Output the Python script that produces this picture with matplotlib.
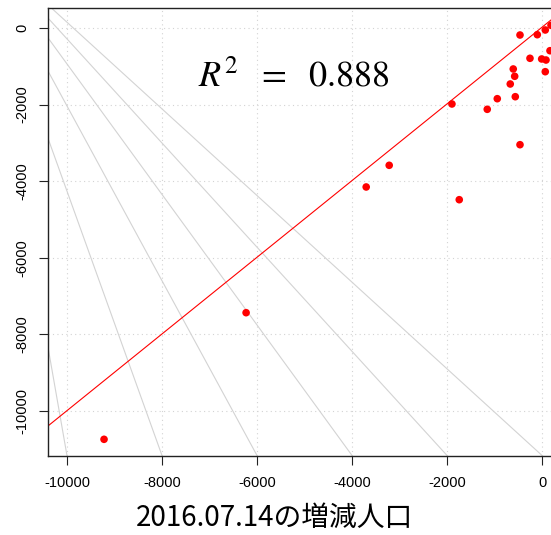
import matplotlib
matplotlib.use("Agg")
import matplotlib.pyplot as plt
import numpy as np

# 増減人口 (x: 2016.07.14, y: regression target)
x_vals = [-469, -105, 63, 183, 162, -259, -13, 78, -611, 63, -581, -674,
          -947, -568, -1901, -1158, -469, -3221, -3705, -1747, -6232, -9221]
y_vals = [-183, -175, -52, 70, -593, -791, -809, -836, -1070, -1141, -1261, -1462,
          -1846, -1794, -1984, -2123, -3047, -3585, -4151, -4483, -7433, -10739]

# fitted line
fit_slope = 1.0016
fit_intercept = 26
r2_text = r"$R^2\ \ =\ \ 0.888$"

# fan of reference lines: common point and where they cross the bottom edge
fan_center = (-11900, 2300)
fan_ends = [-10000, -8000, -6000, -4000, -2000, 0]

ticks = [-10000, -8000, -6000, -4000, -2000, 0]
xlabel = "2016.07.14の増減人口"

plt.rcParams["font.family"] = ["Liberation Sans", "DejaVu Sans"]
plt.rcParams["mathtext.fontset"] = "stix"

fig = plt.figure(figsize=(5.51, 5.35), dpi=100)
ax = fig.add_axes([48 / 551, 79.3 / 535, 513.3 / 551, 447.7 / 535])

xlim = (-10400, 400)
ylim = (-11167, 522)
ax.set_xlim(*xlim)
ax.set_ylim(*ylim)

# fan lines
for xe in fan_ends:
    ax.axline(fan_center, (xe, ylim[0]), color="#d3d3d3", lw=0.8, zorder=1)

ax.set_xticks(ticks)
ax.set_yticks(ticks)
ax.grid(True, linestyle=(0, (1, 3)), color="#d3d3d3", lw=0.8, zorder=0)
ax.set_axisbelow(True)

# regression line
ax.axline((0, fit_intercept), slope=fit_slope, color="red", lw=0.8, zorder=2)

ax.scatter(x_vals, y_vals, s=30, color="red", edgecolors="none", zorder=3)

ax.text(-5230, -1540, r2_text, fontsize=26, ha="center", va="baseline", zorder=4)

for side in ["left", "bottom", "top", "right"]:
    ax.spines[side].set_color("#222222")
    ax.spines[side].set_linewidth(1.0)

ax.tick_params(axis="both", direction="out", length=6.5, width=0.8,
               labelsize=10.5, color="#222222")
ax.tick_params(axis="x", pad=8)
ax.tick_params(axis="y", pad=7)
ax.set_xticklabels([str(t) for t in ticks])
ax.set_yticklabels([str(t) for t in ticks], rotation=90, va="center")

ax.set_xlabel(xlabel, fontsize=20, family=["Noto Sans CJK JP", "DejaVu Sans"],
              va="center")
ax.xaxis.set_label_coords(226 / 513.3, -62 / 447.7)

fig.savefig("out.png", dpi=100)
